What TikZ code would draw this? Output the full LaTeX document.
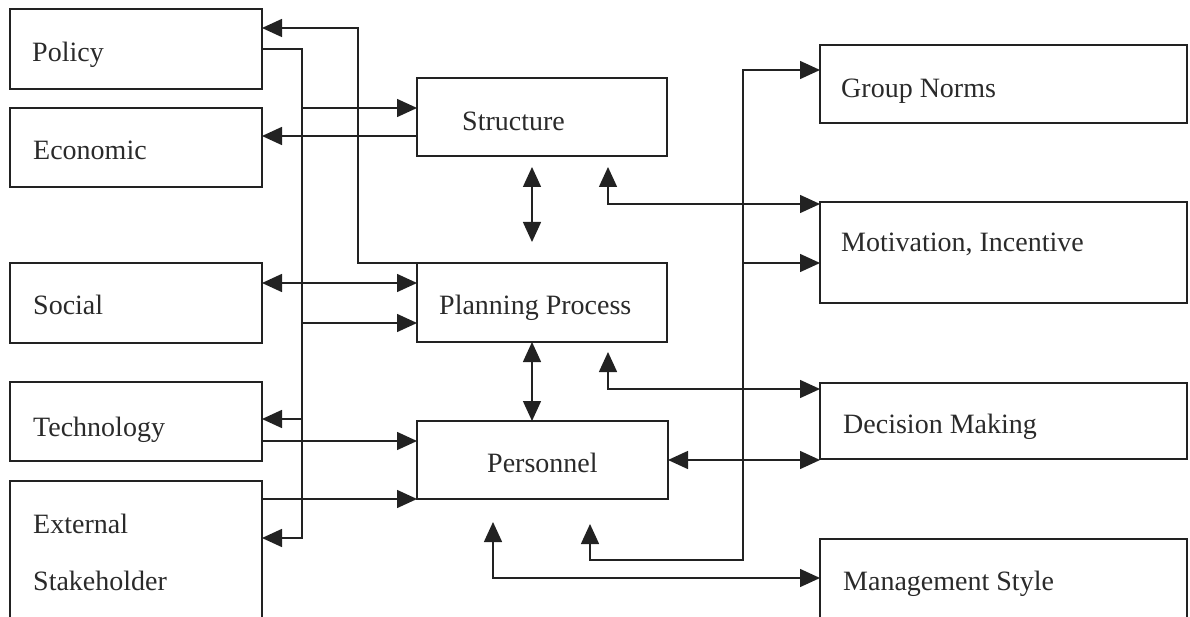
\documentclass[tikz,border=0pt]{standalone}
\usepackage{fontspec}
\setmainfont{Liberation Serif}
\usetikzlibrary{arrows.meta,calc}
\definecolor{ink}{HTML}{222222}
\definecolor{txt}{HTML}{2A2A2A}
\begin{document}
\begin{tikzpicture}[x=1pt,y=-1pt,
  box/.style={draw=ink,line width=1.5pt,rectangle,anchor=north west,inner sep=0pt,outer sep=0pt},
  lbl/.style={anchor=base west,inner sep=0pt,text=txt,font=\fontsize{28}{32}\selectfont},
  clbl/.style={lbl},
  conn/.style={draw=ink,line width=1.5pt},
  arr/.style={conn,-{Triangle[length=20pt,width=18pt]}},
  dbl/.style={conn,{Triangle[length=20pt,width=18pt]}-{Triangle[length=20pt,width=18pt]}}]
\useasboundingbox (0,0) rectangle (1190,617);
\begin{scope}
\clip (0,0) rectangle (1190,617);
% left boxes
\node[box,minimum width=252pt,minimum height=80pt] (pol) at (10,9) {};
\node[box,minimum width=252pt,minimum height=79pt] (eco) at (10,108) {};
\node[box,minimum width=252pt,minimum height=80pt] (soc) at (10,263) {};
\node[box,minimum width=252pt,minimum height=79pt] (tec) at (10,382) {};
\node[box,minimum width=252pt,minimum height=150pt] (ext) at (10,481) {};
% middle boxes
\node[box,minimum width=250pt,minimum height=78pt] (str) at (417,78) {};
\node[box,minimum width=250pt,minimum height=79pt] (pla) at (417,263) {};
\node[box,minimum width=251pt,minimum height=78pt] (per) at (417,421) {};
% right boxes
\node[box,minimum width=367pt,minimum height=78pt] (grp) at (820,45) {};
\node[box,minimum width=367pt,minimum height=101pt] (mot) at (820,202) {};
\node[box,minimum width=367pt,minimum height=76pt] (dec) at (820,383) {};
\node[box,minimum width=367pt,minimum height=90pt] (man) at (820,539) {};
\end{scope}
% labels
\node[lbl] (tpol) at (32,62) {Policy};
\node[lbl] (teco) at (33,160) {Economic};
\node[lbl] (tsoc) at (33,315) {Social};
\node[lbl] (ttec) at (33,436) {Technology};
\node[lbl] (text1) at (33,533) {External};
\node[lbl] (text2) at (33,590) {Stakeholder};
\node[lbl] (tstr) at (462,131) {Structure};
\node[lbl] (tpla) at (439,315) {Planning Process};
\node[lbl] (tper) at (487,472) {Personnel};
\node[lbl] (tgrp) at (841,98) {Group Norms};
\node[lbl] (tmot) at (841,252) {Motivation, Incentive};
\node[lbl] (tdec) at (843,433) {Decision Making};
\node[lbl] (tman) at (843,590) {Management Style};
% trunk coordinates
\coordinate (pt1) at (302,108);
\coordinate (pt2) at (302,323);
\coordinate (pt3) at (302,419);
\coordinate (rt1) at (743,263);
% Planning -> Policy
\draw[arr] (pla.north west) -- ++(-59,0) |- ($(pol.north east)+(0,19)$);
% Policy trunk -> External
\draw[arr] ($(pol.north east)+(0,40)$) -| (302,538) -- ($(ext.north east)+(0,57)$);
\draw[arr] (pt1) -- ($(str.north west)+(0,30)$);
\draw[arr] (pt2) -- ($(pla.north west)+(0,60)$);
\draw[arr] (pt3) -- ($(tec.north east)+(0,37)$);
% Structure -> Economic
\draw[arr] ($(str.north west)+(0,58)$) -- ($(eco.north east)+(0,28)$);
% Social <-> Planning
\draw[dbl] ($(soc.north east)+(0,20)$) -- ($(pla.north west)+(0,20)$);
% Technology -> Personnel
\draw[arr] ($(tec.north east)+(0,59)$) -- ($(per.north west)+(0,20)$);
% External -> Personnel
\draw[arr] ($(ext.north east)+(0,18)$) -- (per.south west);
% Structure <-> Planning
\draw[dbl] ($(str.south west)+(115,11)$) -- ($(pla.north west)+(115,-21)$);
% Planning <-> Personnel
\draw[dbl] ($(pla.south west)+(115,0)$) -- ($(per.north west)+(115,0)$);
% Structure <-> Motivation
\draw[dbl] ($(str.south west)+(191,11)$) |- ($(mot.north west)+(0,2)$);
% Planning <-> Decision
\draw[dbl] ($(pla.south west)+(191,10)$) |- ($(dec.north west)+(0,6)$);
% Personnel <-> Decision
\draw[dbl] (per.east) -- (dec.west |- per.east);
% Personnel <-> Group Norms trunk
\draw[dbl] ($(per.south west)+(173,25)$) |- (743,560) |- ($(grp.north west)+(0,25)$);
\draw[arr] (rt1) -- ($(mot.north west)+(0,61)$);
% Personnel <-> Management Style
\draw[dbl] ($(per.south west)+(76,23)$) |- ($(man.north west)+(0,39)$);
\end{tikzpicture}
\end{document}
